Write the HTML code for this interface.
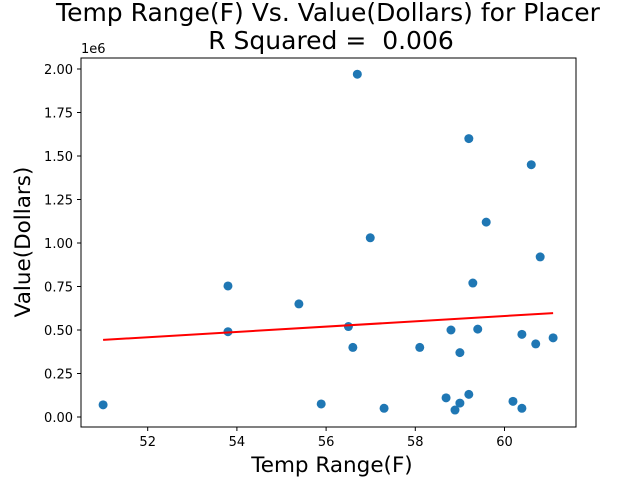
<!DOCTYPE html>
<html><head><meta charset="utf-8"><style>
body{margin:0;background:#fff;font-family:"DejaVu Sans","Liberation Sans",sans-serif}
svg text{font-family:"DejaVu Sans","Liberation Sans",sans-serif;white-space:pre}
</style></head><body>
<svg id="c" width="640" height="480" xml:space="preserve"></svg>
<script>
const xs=[51.0,53.8,53.8,55.39,55.89,56.5,56.6,56.7,56.99,57.3,58.1,58.69,58.8,58.89,59.0,59.0,59.2,59.2,59.29,59.4,59.59,60.19,60.39,60.39,60.6,60.7,60.8,61.09];
const ys=[0.07,0.753,0.49,0.65,0.075,0.52,0.40,1.97,1.03,0.05,0.40,0.11,0.50,0.04,0.37,0.08,1.60,0.13,0.77,0.505,1.12,0.09,0.05,0.475,1.45,0.42,0.92,0.455];
const fitX=[51.0,61.09];
const fitY=[0.443,0.597];
const xTicks=[52,54,56,58,60];
const xTickLabels=["52","54","56","58","60"];
const yTicks=[0,0.25,0.5,0.75,1.0,1.25,1.5,1.75,2.0];
const yTickLabels=["0.00","0.25","0.50","0.75","1.00","1.25","1.50","1.75","2.00"];
const NS="http://www.w3.org/2000/svg";
const svg=document.getElementById('c');
const X=v=>147.7+(v-52)*44.6;
const Y=v=>417-v*174;
function mk(t,a,txt){const e=document.createElementNS(NS,t);for(const k in a)e.setAttribute(k,a[k]);if(txt!=null)e.textContent=txt;svg.appendChild(e);return e;}
let e;
e=mk('text',{x:328,y:21,'font-size':25,'text-anchor':'middle'},'Temp Range(F) Vs. Value(Dollars) for Placer');


e=mk('text',{x:331,y:49,'font-size':25,'text-anchor':'middle'},'R Squared =  0.006');


e=mk('rect',{x:81,y:58,width:495,height:369,fill:'none',stroke:'#000','stroke-width':1});


xTicks.forEach((t,i)=>{
 e=mk('line',{x1:X(t),x2:X(t),y1:427,y2:431,stroke:'#000'});
 
 
 e=mk('text',{x:X(t),y:446,'font-size':13,'text-anchor':'middle'},xTickLabels[i]);
 
 
});
yTicks.forEach((t,i)=>{
 e=mk('line',{x1:77,x2:81,y1:Y(t),y2:Y(t),stroke:'#000'});
 
 
 e=mk('text',{x:73,y:Y(t)+5,'font-size':13,'text-anchor':'end'},yTickLabels[i]);
 
 
});
e=mk('text',{x:81,y:53,'font-size':13},'1e6');


e=mk('text',{x:332,y:472,'font-size':21.5,'text-anchor':'middle'},'Temp Range(F)');


e=mk('text',{x:0,y:0,'font-size':21.5,'text-anchor':'middle',transform:'translate(30,242) rotate(-90)'},'Value(Dollars)');


xs.forEach((v,i)=>{
 e=mk('circle',{cx:X(v),cy:Y(ys[i]),r:4.5,fill:'#1f77b4'});
 
 
});
e=mk('line',{x1:X(fitX[0]),y1:Y(fitY[0]),x2:X(fitX[1]),y2:Y(fitY[1]),stroke:'#ff0000','stroke-width':2});


</script>
</body></html>
